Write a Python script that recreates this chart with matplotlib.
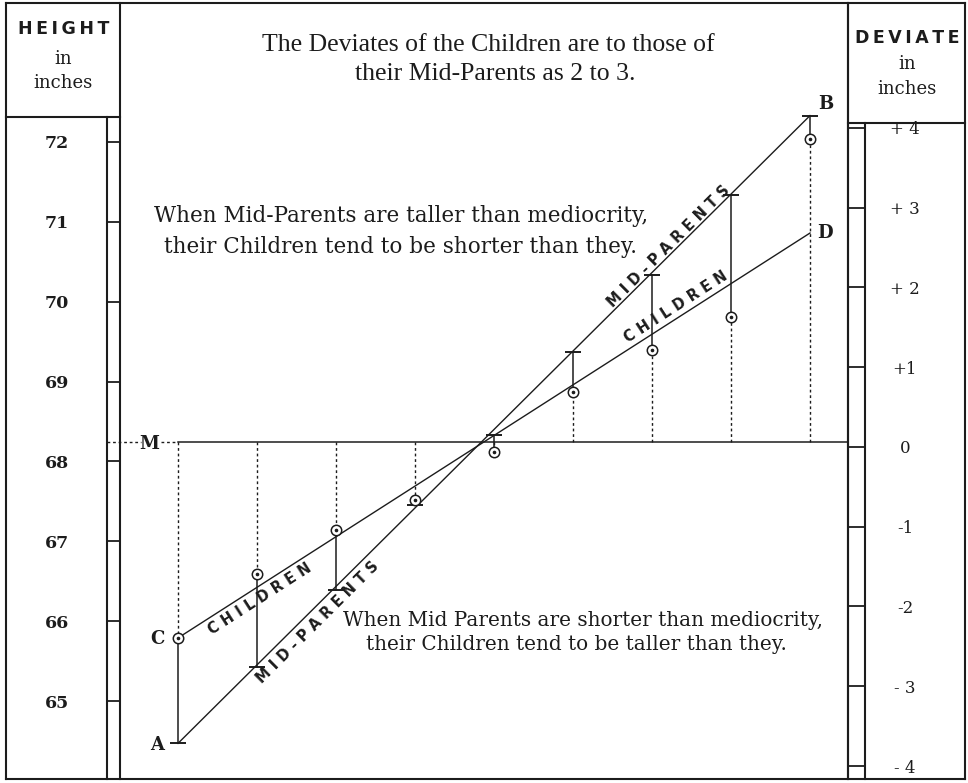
import matplotlib
matplotlib.use('Agg')
import matplotlib.pyplot as plt
from matplotlib.lines import Line2D

# Galton's regression diagram: mid-parent heights vs children heights
mid_parent_cols = [64.5, 65.5, 66.5, 67.5, 68.5, 69.5, 70.5, 71.5, 72.5]
mid_parent_heights = [64.47, 65.43, 66.39, 67.45, 68.33, 69.37, 70.33, 71.34, 72.33]
children_heights = [65.79, 66.59, 67.14, 67.52, 68.12, 68.87, 69.40, 69.81, 72.04]
children_line = [65.79, 70.86]
mediocrity = 68.24

height_ticks = [65, 66, 67, 68, 69, 70, 71, 72]
deviate_ticks = [4, 3, 2, 1, 0, -1, -2, -3, -4]
deviate_labels = ['+ 4', '+ 3', '+ 2', '+1', '0', '-1', '-2', '- 3', '- 4']

W, H = 968, 783
INK = '#1c1c1c'
SERIF = 'DejaVu Serif'
SANS = 'DejaVu Sans'
THIN = '\u2009'


def fx(px):
    return px / W


def fy(py):
    return 1 - py / H


def spaced(word):
    return THIN.join(word)


fig = plt.figure(figsize=(W / 100, H / 100), dpi=100)
fig.patch.set_facecolor('white')

ax = fig.add_axes([fx(120), fy(779), fx(848) - fx(120), fy(3) - fy(779)])
ax.set_xlim(63.766, 72.981)
ax.set_ylim(64.024, 73.74)
ax.set_xticks([])
ax.set_yticks(height_ticks)
ax.set_yticklabels([str(t) for t in height_ticks], fontfamily=SERIF,
                   fontweight='bold', fontsize=12.5, color=INK)
ax.tick_params(axis='y', direction='out', length=9.4, width=1.3, pad=36, color=INK)
for lbl in ax.get_yticklabels():
    lbl.set_ha('center')
for s in ['top', 'bottom']:
    ax.spines[s].set_visible(False)
for s in ['left', 'right']:
    ax.spines[s].set_linewidth(1.5)
    ax.spines[s].set_color(INK)

ax2 = ax.twinx()
ax2.set_ylim(-4.163, 5.567)
ax2.set_yticks(deviate_ticks)
ax2.set_yticklabels(deviate_labels, fontfamily=SERIF, fontsize=12, color=INK)
ax2.tick_params(axis='y', direction='out', length=12.2, width=1.3, pad=28.8, color=INK)
for lbl in ax2.get_yticklabels():
    lbl.set_ha('center')
for s in ['top', 'bottom', 'left']:
    ax2.spines[s].set_visible(False)
ax2.spines['right'].set_linewidth(1.5)
ax2.spines['right'].set_color(INK)

# mediocrity line M
dots = (0, (2, 2))
ax.plot([63.60, 64.03], [mediocrity] * 2, color=INK, lw=1, ls=dots, clip_on=False)
ax.plot([64.28, 64.5], [mediocrity] * 2, color=INK, lw=1, ls=dots)
ax.plot([64.5, 72.981], [mediocrity] * 2, color=INK, lw=1.1)

# verticals: dotted from M to the child point, solid from child to mid-parent
for x, c, m in zip(mid_parent_cols, children_heights, mid_parent_heights):
    ax.plot([x, x], [mediocrity, c], color=INK, lw=1, ls=dots)
    ax.plot([x, x], [c, m], color=INK, lw=1.1)

# regression lines
ax.plot([mid_parent_cols[0], mid_parent_cols[-1]],
        [mid_parent_heights[0], mid_parent_heights[-1]], color=INK, lw=1)
ax.plot([mid_parent_cols[0], mid_parent_cols[-1]], children_line, color=INK, lw=1)

ax.plot(mid_parent_cols, mid_parent_heights, ls='none', marker='_', ms=11,
        mew=1.4, color=INK, zorder=4)
ax.plot(mid_parent_cols, children_heights, ls='none', marker='o', ms=7.5,
        mfc='white', mec=INK, mew=1.1, zorder=5)
ax.plot(mid_parent_cols, children_heights, ls='none', marker='o', ms=1.6,
        color=INK, zorder=6)

# outer frame and header boxes
frame = [
    ((6, 3), (965, 3)), ((6, 779), (965, 779)),
    ((6, 3), (6, 779)), ((965, 3), (965, 779)),
    ((6, 117), (120, 117)), ((107, 117), (107, 779)),
    ((848, 123), (965, 123)), ((865, 123), (865, 779)),
]
for (x0, y0), (x1, y1) in frame:
    fig.add_artist(Line2D([fx(x0), fx(x1)], [fy(y0), fy(y1)],
                          transform=fig.transFigure, color=INK, lw=1.5))

# header texts
fig.text(fx(64), fy(29), spaced('HEIGHT'), family=SANS, weight='bold', fontsize=12.5,
         ha='center', va='center', color=INK)
fig.text(fx(63), fy(59), 'in', family=SERIF, fontsize=13, ha='center', va='center', color=INK)
fig.text(fx(63), fy(83), 'inches', family=SERIF, fontsize=13, ha='center', va='center', color=INK)
fig.text(fx(907), fy(38), spaced('DEVIATE'), family=SANS, weight='bold', fontsize=12.5,
         ha='center', va='center', color=INK)
fig.text(fx(907), fy(64), 'in', family=SERIF, fontsize=13, ha='center', va='center', color=INK)
fig.text(fx(907), fy(89), 'inches', family=SERIF, fontsize=13, ha='center', va='center', color=INK)

# explanatory texts
fig.text(fx(488), fy(45), 'The Deviates of the Children are to those of',
         family='Liberation Serif', fontsize=18.5, ha='center', va='center', color=INK)
fig.text(fx(495), fy(74), 'their Mid-Parents as 2 to 3.',
         family='Liberation Serif', fontsize=18.5, ha='center', va='center', color=INK)
fig.text(fx(401), fy(216), 'When Mid-Parents are taller than mediocrity,',
         family=SERIF, fontsize=15.5, ha='center', va='center', color=INK)
fig.text(fx(401), fy(247), 'their Children tend to be shorter than they.',
         family=SERIF, fontsize=15.5, ha='center', va='center', color=INK)
fig.text(fx(583), fy(621), 'When Mid Parents are shorter than mediocrity,',
         family=SERIF, fontsize=14.4, ha='center', va='center', color=INK)
fig.text(fx(576), fy(644), 'their Children tend to be taller than they.',
         family=SERIF, fontsize=14.4, ha='center', va='center', color=INK)

# labels along the lines
line_labels = [
    ('M I D - P A R E N T S', 669, 246, 44.8),
    ('C H I L D R E N', 676, 307, 32.7),
    ('C H I L D R E N', 260, 599, 32.7),
    ('M I D - P A R E N T S', 318, 622, 44.8),
]
for txt, px, py, rot in line_labels:
    fig.text(fx(px), fy(py), txt, family=SANS, weight='bold', fontsize=10.5,
             rotation=rot, rotation_mode='anchor', ha='center', va='center', color=INK)

# point letters
for txt, px, py in [('A', 157, 745), ('C', 157, 639), ('M', 149, 444),
                    ('B', 826, 104), ('D', 825, 233)]:
    fig.text(fx(px), fy(py), txt, family=SERIF, weight='bold', fontsize=13,
             ha='center', va='center', color=INK)

fig.savefig('out.png', dpi=100)
